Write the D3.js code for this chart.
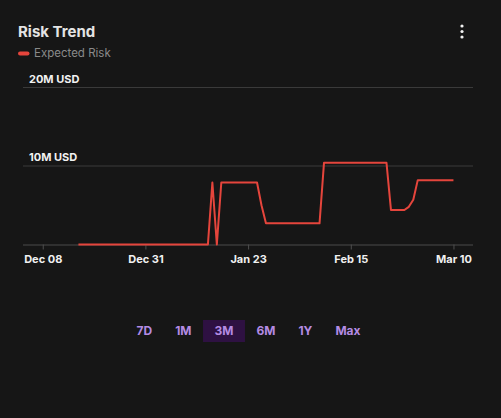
<!DOCTYPE html>
<html>
<head>
<meta charset="utf-8">
<script src="https://cdn.jsdelivr.net/npm/d3@7"></script>
<style>
  html, body { margin: 0; padding: 0; background: #161616; }
  svg { display: block; font-family: Inter, "Noto Sans", sans-serif; }
</style>
</head>
<body>
<svg id="chart" width="501" height="418"></svg>
<script>
// series: one value per day (millions USD), Dec 16 2024 -> Mar 10 2025
var startDay = "2024-12-16";
var riskValues = [
  0, 0, 0, 0, 0, 0, 0, 0, 0, 0,
  0, 0, 0, 0, 0, 0, 0, 0, 0, 0,
  0, 0, 0, 0, 0, 0, 0, 0, 0, 0,   // to Jan 14
  7.9, 0,                         // Jan 15, Jan 16
  7.9, 7.9, 7.9, 7.9, 7.9, 7.9, 7.9, 7.9, 7.9,  // Jan 17 - Jan 25
  5.0,                            // Jan 26
  2.7, 2.7, 2.7, 2.7, 2.7, 2.7, 2.7, 2.7, 2.7, 2.7, 2.7, 2.7, 2.7, // to Feb 8
  10.4, 10.4, 10.4, 10.4, 10.4, 10.4, 10.4, 10.4, 10.4, 10.4, 10.4, 10.4, 10.4, 10.4, 10.4, // to Feb 23
  4.4, 4.4, 4.4, 4.4,             // Feb 24 - Feb 27
  4.8, 5.7,                       // Feb 28, Mar 1
  8.2, 8.2, 8.2, 8.2, 8.2, 8.2, 8.2, 8.2, 8.2   // Mar 2 - Mar 10
];
var tickDates = ["2024-12-08", "2024-12-31", "2025-01-23", "2025-02-15", "2025-03-10"];
var yTicks = [10, 20];
var ranges = ["7D", "1M", "3M", "6M", "1Y", "Max"];
var activeRange = "3M";

var parse = d3.utcParse("%Y-%m-%d");
var fmt = d3.utcFormat("%b %d");
var t0 = parse(startDay);
var data = riskValues.map(function (v, i) {
    return { date: d3.utcDay.offset(t0, i), value: v };
});

var svg = d3.select("#chart");

var x = d3.scaleUtc()
    .domain([new Date(Date.UTC(2024, 11, 3, 14)), new Date(Date.UTC(2025, 2, 14, 9))])
    .range([23, 473]);
var y = d3.scaleLinear().domain([0, 20]).range([244.5, 87.5]);

// title + menu
svg.append("text").attr("x", 18).attr("y", 37)
    .attr("fill", "#e4e4e4").attr("font-size", 15).attr("font-weight", 700)
    .text("Risk Trend");
svg.selectAll("circle.dot").data([26, 31.5, 37]).enter().append("circle")
    .attr("cx", 462).attr("cy", function (d) { return d; }).attr("r", 1.6)
    .attr("fill", "#f2f2f2");

// legend
svg.append("rect").attr("x", 18).attr("y", 51.5).attr("width", 11.5).attr("height", 4)
    .attr("rx", 2).attr("fill", "#e5453c");
svg.append("text").attr("x", 34).attr("y", 57)
    .attr("fill", "#8a8a8a").attr("font-size", 11.5)
    .text("Expected Risk");

// gridlines + labels
var grid = svg.append("g");
grid.selectAll("line").data(yTicks).enter().append("line")
    .attr("x1", 23).attr("x2", 473)
    .attr("y1", function (d) { return y(d); }).attr("y2", function (d) { return y(d); })
    .attr("stroke", "#3a3a3a").attr("stroke-width", 1);
grid.selectAll("text").data(yTicks).enter().append("text")
    .attr("x", 29).attr("y", function (d) { return y(d) - 5; })
    .attr("fill", "#f2f2f2").attr("font-size", 11).attr("font-weight", 700)
    .text(function (d) { return d + "M USD"; });

// x axis
var xAxis = d3.axisBottom(x)
    .tickValues(tickDates.map(parse))
    .tickFormat(fmt)
    .tickSize(5)
    .tickPadding(6);
var ax = svg.append("g").attr("transform", "translate(0," + y(0) + ")").call(xAxis);
ax.select(".domain").attr("stroke", "#4a4a4a").attr("d", "M23,0.5H473");
ax.selectAll(".tick line").attr("stroke", "#4e4e4e");
ax.selectAll(".tick text")
    .attr("fill", "#f0f0f0").attr("font-size", 11).attr("font-weight", 700)
    .attr("font-family", "Inter, 'Noto Sans', sans-serif");

// line
var line = d3.line()
    .x(function (d) { return x(d.date); })
    .y(function (d) { return y(d.value); });
svg.append("path").datum(data)
    .attr("d", line)
    .attr("fill", "none")
    .attr("stroke", "#e5453c")
    .attr("stroke-width", 2)
    .attr("stroke-linejoin", "round");

// range buttons
var btns = svg.append("g");
var pad = 11.5, bx = 0;
var items = ranges.map(function (r) {
    var t = btns.append("text").attr("font-size", 12).attr("font-weight", 700).text(r);
    var w = t.node().getComputedTextLength() + pad * 2;
    var it = { label: r, node: t, x: bx, w: w };
    bx += w;
    return it;
});
var offset = 248.5 - bx / 2;
items.forEach(function (it) {
    if (it.label === activeRange) {
        btns.insert("rect", "text")
            .attr("x", offset + it.x).attr("y", 320).attr("width", it.w).attr("height", 22)
            .attr("fill", "#2e1142");
    }
    it.node.attr("x", offset + it.x + it.w / 2).attr("y", 335.3)
        .attr("text-anchor", "middle").attr("fill", "#b48be4");
});
</script>
</body>
</html>
